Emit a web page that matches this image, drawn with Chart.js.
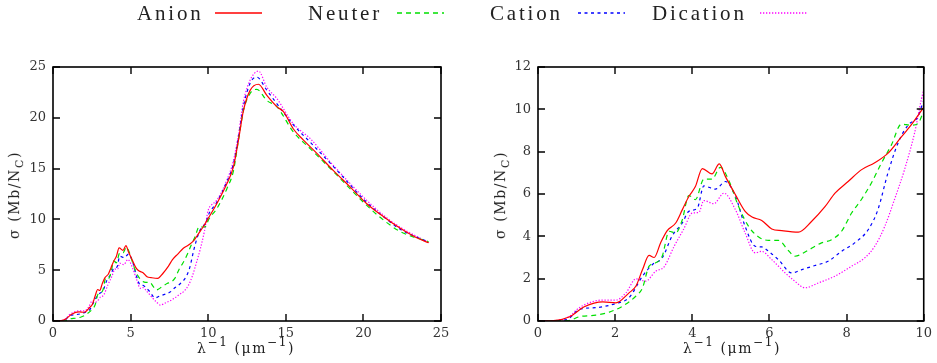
<!DOCTYPE html>
<html>
<head>
<meta charset="utf-8">
<script src="https://cdn.jsdelivr.net/npm/chart.js@4/dist/chart.umd.min.js"></script>
<style>
  html, body { margin: 0; padding: 0; background: #fff; }
  #wrap { position: relative; width: 937px; height: 363px; overflow: hidden; background: #fff; }
  canvas { position: absolute; top: 0; }
  .lg { position: absolute; top: 0; font-family: "Liberation Serif", serif; font-size: 21px; letter-spacing: 2.8px; color: #222; line-height: 26px; }
  .lgline { position: absolute; top: 8px; }
  .ttl { position: absolute; font-family: "DejaVu Serif", serif; font-size: 14px; color: #222; white-space: nowrap; letter-spacing: 1.6px; }
  .ttl sup { font-size: 12px; position: relative; top: -1px; }
  .ttl sub { font-size: 11px; }
  .ytl { transform: translate(-50%, -50%) rotate(-90deg); }
  .xtl { transform: translateX(-50%); }
</style>
</head>
<body>
<div id="wrap">
  <canvas id="c1" width="468" height="363" style="left:0;width:468px;height:363px"></canvas>
  <canvas id="c2" width="469" height="363" style="left:468px;width:469px;height:363px"></canvas>

  <div class="lg" style="left:137px">Anion</div>
  <svg class="lgline" style="left:214px" width="50" height="10"><line x1="1" y1="5" x2="48" y2="5" stroke="#ff0000" stroke-width="1.3"/></svg>
  <div class="lg" style="left:308px">Neuter</div>
  <svg class="lgline" style="left:396px" width="50" height="10"><line x1="1" y1="5" x2="48" y2="5" stroke="#00e000" stroke-width="1.3" stroke-dasharray="5,4"/></svg>
  <div class="lg" style="left:490px">Cation</div>
  <svg class="lgline" style="left:577px" width="50" height="10"><line x1="1" y1="5" x2="48" y2="5" stroke="#0000ff" stroke-width="1.3" stroke-dasharray="3,3.5"/></svg>
  <div class="lg" style="left:652px">Dication</div>
  <svg class="lgline" style="left:759px" width="50" height="10"><line x1="1" y1="5" x2="48" y2="5" stroke="#ff00ff" stroke-width="1.3" stroke-dasharray="1.3,1.7"/></svg>

  <div class="ttl ytl" style="left:16px;top:195px">σ (Mb/N<sub>C</sub>)</div>
  <div class="ttl ytl" style="left:502px;top:195px">σ (Mb/N<sub>C</sub>)</div>
  <div class="ttl xtl" style="left:246px;top:336px">λ<sup>−1</sup> (μm<sup>−1</sup>)</div>
  <div class="ttl xtl" style="left:732px;top:336px">λ<sup>−1</sup> (μm<sup>−1</sup>)</div>
</div>
<script>
// ---- data (x = inverse wavelength in µm^-1, y = cross-section in Mb/N_C) ----
const anionX = [0, 0.4, 0.82, 1.2, 1.68, 2.02, 2.36, 2.54, 2.71, 2.88, 3.01, 3.18, 3.35, 3.57, 3.74, 3.91, 4.08, 4.26, 4.51, 4.70, 4.86, 5.12, 5.37, 5.55, 5.8, 6.06, 6.32, 6.75, 7.09, 7.44, 7.7, 8.04, 8.38, 8.73, 9.07, 9.42, 9.67, 10.0, 10.56, 11.2, 11.63, 11.95, 12.27, 12.7, 13.24, 13.78, 14.42, 14.85, 15.49, 16.14, 17.0, 18.07, 19.14, 20.2, 21.3, 22.4, 23.4, 24.2];
const anionY = [0, 0.02, 0.2, 0.67, 0.9, 0.86, 1.33, 1.65, 2.43, 3.1, 3.0, 3.7, 4.27, 4.63, 5.25, 5.88, 6.35, 7.2, 6.95, 7.42, 6.82, 5.96, 5.18, 4.91, 4.75, 4.35, 4.27, 4.2, 4.7, 5.4, 6.04, 6.59, 7.14, 7.48, 7.92, 8.7, 9.25, 10.1, 11.57, 13.5, 15.2, 17.8, 20.7, 22.7, 23.3, 22.2, 21.1, 20.6, 18.9, 17.8, 16.5, 14.8, 13.2, 11.57, 10.26, 9.1, 8.22, 7.7];

const neuterX = [0, 0.8, 1.07, 1.5, 1.85, 2.19, 2.54, 2.71, 2.88, 3.05, 3.22, 3.4, 3.57, 3.74, 3.91, 4.08, 4.3, 4.51, 4.73, 4.94, 5.2, 5.46, 5.72, 5.98, 6.23, 6.49, 6.66, 7.0, 7.35, 7.61, 7.87, 8.13, 8.38, 8.64, 8.9, 9.16, 9.42, 9.67, 9.85, 10.0, 10.56, 11.2, 11.63, 11.95, 12.27, 12.7, 13.13, 13.78, 14.42, 15.49, 16.57, 18.07, 20.2, 21.3, 22.4, 24.2];
const neuterY = [0, 0.02, 0.2, 0.28, 0.42, 0.7, 1.18, 1.57, 2.59, 2.75, 3.06, 4.24, 4.16, 4.78, 5.93, 5.73, 6.7, 6.7, 7.26, 6.67, 5.41, 4.47, 3.97, 3.81, 3.81, 3.33, 3.06, 3.34, 3.69, 3.84, 4.24, 5.1, 5.73, 6.51, 7.45, 8.31, 9.3, 9.25, 9.33, 9.9, 11.07, 13.0, 14.8, 17.8, 20.7, 22.4, 22.8, 21.7, 21.1, 18.6, 16.97, 14.7, 11.4, 9.93, 8.78, 7.8];

const cationX = [0, 0.5, 0.8, 1.07, 1.5, 2.02, 2.36, 2.71, 2.97, 3.22, 3.48, 3.74, 3.91, 4.13, 4.3, 4.6, 4.86, 5.12, 5.37, 5.63, 5.8, 5.98, 6.23, 6.58, 6.84, 7.18, 7.52, 7.87, 8.21, 8.56, 8.81, 9.07, 9.33, 9.59, 9.85, 10.0, 10.56, 11.2, 11.63, 11.95, 12.27, 12.7, 13.13, 13.78, 14.42, 15.49, 16.57, 18.07, 20.2, 21.3, 22.4, 24.2];
const cationY = [0, 0.02, 0.12, 0.55, 0.63, 0.83, 1.1, 2.12, 2.67, 2.98, 4.03, 4.63, 5.18, 5.33, 6.38, 6.23, 6.59, 5.88, 4.47, 3.53, 3.5, 3.29, 2.9, 2.27, 2.43, 2.62, 2.82, 3.29, 3.69, 4.31, 5.25, 6.98, 8.39, 9.25, 9.65, 10.4, 11.7, 13.7, 15.5, 18.1, 21.1, 23.4, 24.0, 22.7, 21.4, 19.3, 17.6, 15.2, 11.7, 10.26, 9.0, 7.77];

const dicationX = [0, 0.5, 0.8, 1.07, 1.68, 2.02, 2.28, 2.54, 2.79, 3.05, 3.27, 3.53, 3.78, 4.0, 4.17, 4.3, 4.56, 4.82, 5.12, 5.37, 5.63, 5.8, 6.06, 6.41, 6.66, 6.92, 7.27, 7.7, 8.13, 8.47, 8.73, 8.99, 9.24, 9.5, 9.76, 10.0, 10.2, 10.56, 11.2, 11.63, 11.95, 12.27, 12.7, 13.24, 13.78, 14.42, 15.49, 16.57, 18.07, 20.2, 21.3, 22.4, 24.2];
const dicationY = [0, 0.03, 0.2, 0.63, 0.99, 0.99, 1.33, 1.99, 1.88, 2.35, 2.56, 3.53, 4.35, 5.1, 5.13, 5.69, 5.54, 6.04, 5.25, 4.16, 3.22, 3.29, 2.9, 2.27, 1.88, 1.57, 1.8, 2.12, 2.59, 2.98, 3.53, 4.47, 5.73, 7.14, 8.86, 10.9, 11.4, 11.9, 13.86, 15.8, 18.4, 21.6, 23.7, 24.6, 23.0, 21.9, 19.4, 17.96, 15.3, 11.9, 10.4, 9.2, 7.73];

const seriesNames = ['Anion', 'Neuter', 'Cation', 'Dication'];
const seriesColors = ['#ff0000', '#00e000', '#0000ff', '#ff00ff'];
const seriesDash = [[], [5, 4], [3, 3.5], [1.3, 1.7]];

const leftTicksX = [0, 5, 10, 15, 20, 25];
const leftTicksY = [0, 5, 10, 15, 20, 25];
const rightTicksX = [0, 2, 4, 6, 8, 10];
const rightTicksY = [0, 2, 4, 6, 8, 10, 12];

// ---- build ----
function pts(xs, ys) { return xs.map((x, i) => ({ x: x, y: ys[i] })); }
const allX = [anionX, neuterX, cationX, dicationX];
const allY = [anionY, neuterY, cationY, dicationY];

function makeDatasets() {
  return seriesNames.map((n, i) => ({
    label: n,
    data: pts(allX[i], allY[i]),
    borderColor: seriesColors[i],
    borderWidth: 1.2,
    borderDash: seriesDash[i],
    pointRadius: 0,
    fill: false,
    cubicInterpolationMode: 'monotone',
    tension: 0.4
  }));
}

const framePlugin = {
  id: 'frame',
  afterDatasetsDraw(chart) {
    const { ctx, chartArea: a, scales } = chart;
    const x = scales.x, y = scales.y;
    ctx.save();
    ctx.strokeStyle = '#000';
    ctx.lineWidth = 1.6;
    ctx.strokeRect(a.left, a.top, a.right - a.left, a.bottom - a.top);
    const L = 7;
    ctx.lineWidth = 1.4;
    ctx.beginPath();
    x.ticks.forEach(t => {
      const p = Math.round(x.getPixelForValue(t.value));
      ctx.moveTo(p, a.bottom); ctx.lineTo(p, a.bottom - L);
      ctx.moveTo(p, a.top); ctx.lineTo(p, a.top + L);
    });
    y.ticks.forEach(t => {
      const p = Math.round(y.getPixelForValue(t.value));
      ctx.moveTo(a.left, p); ctx.lineTo(a.left + L, p);
      ctx.moveTo(a.right, p); ctx.lineTo(a.right - L, p);
    });
    ctx.stroke();
    ctx.restore();
  }
};

function makeChart(id, xmax, ymax, ticksX, ticksY, yW, padRight) {
  const tickFont = { family: 'DejaVu Serif', size: 13 };
  return new Chart(document.getElementById(id), {
    type: 'line',
    data: { datasets: makeDatasets() },
    options: {
      responsive: false,
      animation: false,
      events: [],
      layout: { padding: { left: 0, right: padRight, top: 67, bottom: 0 } },
      plugins: { legend: { display: false }, tooltip: { enabled: false } },
      scales: {
        x: {
          type: 'linear', min: 0, max: xmax,
          afterBuildTicks(s) { s.ticks = ticksX.map(v => ({ value: v })); },
          afterFit(s) { s.height = 42; },
          ticks: { font: tickFont, color: '#333', padding: 5, maxRotation: 0, autoSkip: false },
          grid: { display: false, drawTicks: false },
          border: { display: false }
        },
        y: {
          type: 'linear', min: 0, max: ymax,
          afterBuildTicks(s) { s.ticks = ticksY.map(v => ({ value: v })); },
          afterFit(s) { s.width = yW; },
          ticks: { font: tickFont, color: '#333', padding: 7, autoSkip: false },
          grid: { display: false, drawTicks: false },
          border: { display: false }
        }
      }
    },
    plugins: [framePlugin]
  });
}

makeChart('c1', 25, 25, leftTicksX, leftTicksY, 53, 27);
makeChart('c2', 10, 12, rightTicksX, rightTicksY, 70, 11);
</script>
</body>
</html>
